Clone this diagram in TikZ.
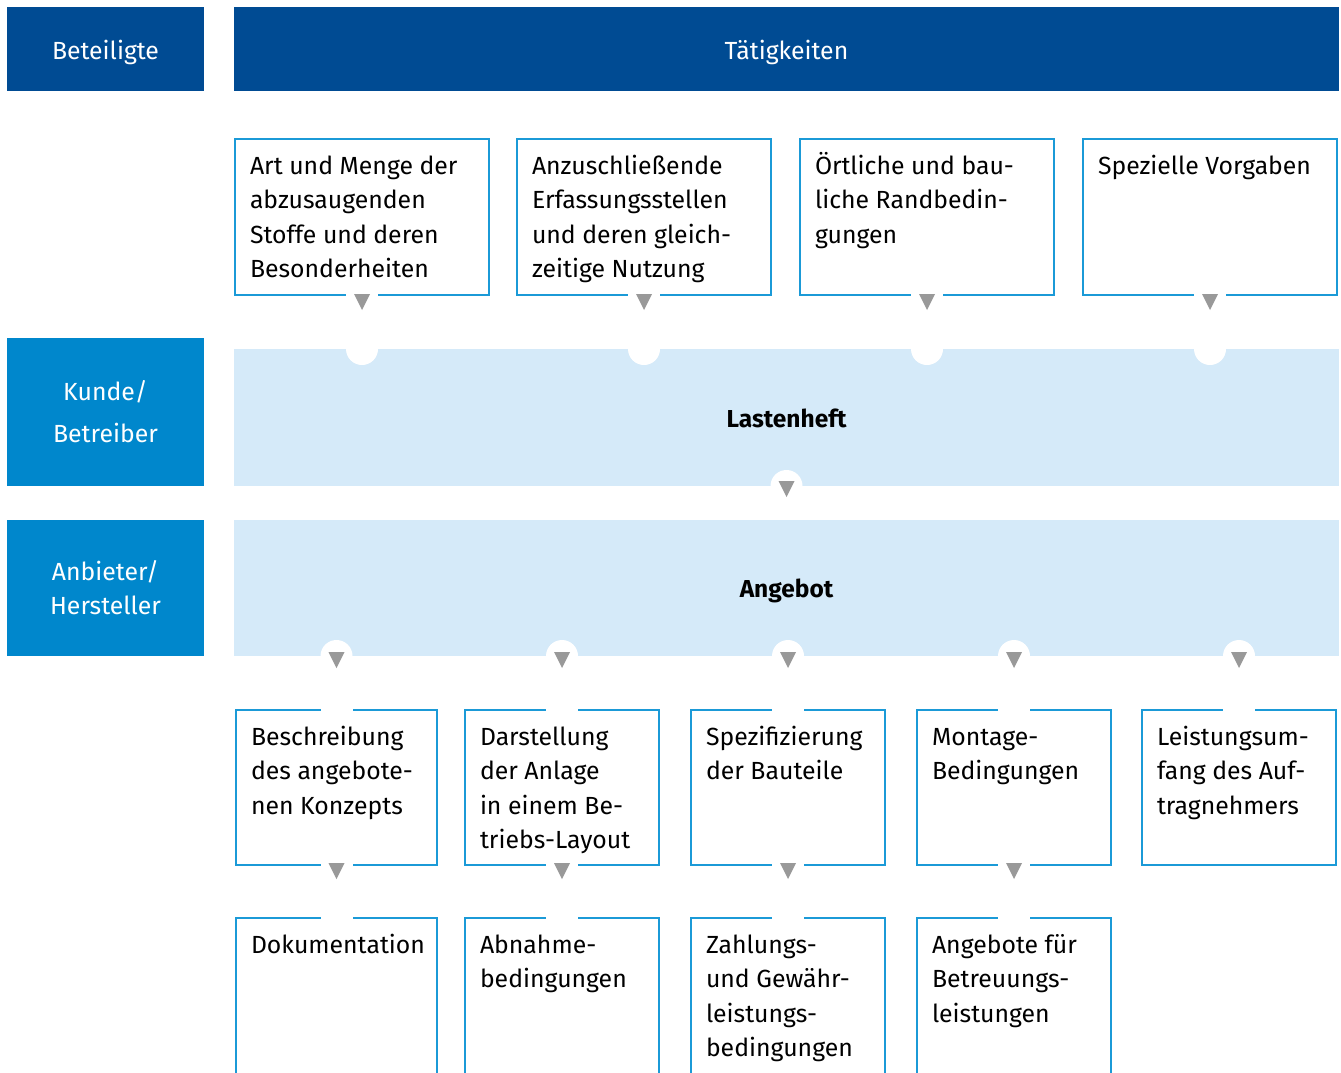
\documentclass[tikz,border=0pt]{standalone}
\usepackage{fontspec}
\setmainfont{Fira Sans}
\usetikzlibrary{calc}
\definecolor{dblue}{HTML}{004B93}
\definecolor{mblue}{HTML}{0087CC}
\definecolor{lblue}{HTML}{D5EAF9}
\definecolor{bblue}{HTML}{1B9AD7}
\definecolor{tgray}{HTML}{999999}
\newcommand\boxtxt[3]{\parbox[c][#2][t]{#1}{\raggedright\rule{0pt}{35.5pt}#3}}
\begin{document}
\begin{tikzpicture}[x=1pt,y=-1pt,
  basefont/.style={font=\fontsize{24.8}{34.3}\selectfont},
  hdr/.style={fill=dblue,text=white,inner sep=0pt,outer sep=0pt,anchor=north west,basefont,text height=20pt,text depth=0pt},
  role/.style={fill=mblue,text=white,inner sep=0pt,outer sep=0pt,anchor=north west,align=center},
  band/.style={fill=lblue,inner sep=0pt,outer sep=0pt,anchor=north west,font=\bfseries\fontsize{24.5}{34.3}\selectfont,text height=19.5pt,text depth=0pt},
  actbox/.style={draw=bblue,line width=2pt,inner xsep=15pt,inner ysep=0pt,outer sep=0pt,anchor=north west,basefont},
  bite/.style={fill=white},
  gapcut/.style={fill=white},
  tri/.style={fill=tgray}]
\useasboundingbox (0,0) rectangle (1341,1072);
\clip (0,0) rectangle (1341,1072);
\fill[white] (0,0) rectangle (1341,1072);

% headers
\node[hdr,minimum width=197pt,minimum height=84pt] (hb) at (7,7) {Beteiligte};
\node[hdr,minimum width=1105pt,minimum height=84pt] (ht) at (234,7) {Tätigkeiten};

% roles
\node[role,minimum width=197pt,minimum height=148pt,font=\fontsize{24.8}{42}\selectfont] (rk) at (7,338) {Kunde/\\Betreiber};
\node[role,minimum width=197pt,minimum height=136pt,font=\fontsize{24.8}{34}\selectfont] (ra) at (7,520) {Anbieter/\\Hersteller};

% bands
\node[band,minimum width=1105pt,minimum height=137pt] (la) at (234,349) {Lastenheft};
\node[band,minimum width=1105pt,minimum height=136pt] (an) at (234,520) {Angebot};

% top row
\node[actbox] (t1) at (235,139) {\boxtxt{224pt}{156pt}{Art und Menge der\\abzusaugenden\\Stoffe und deren\\Besonderheiten}};
\node[actbox] (t2) at (517,139) {\boxtxt{224pt}{156pt}{Anzuschließende\\Erfassungsstellen\\und deren gleich-\\zeitige Nutzung}};
\node[actbox] (t3) at (800,139) {\boxtxt{224pt}{156pt}{Örtliche und bau-\\liche Randbedin-\\gungen}};
\node[actbox] (t4) at (1083,139) {\boxtxt{224pt}{156pt}{Spezielle Vorgaben}};

% middle row
\node[actbox] (m1) at (236,710) {\boxtxt{171pt}{155pt}{Beschreibung\\des angebote-\\nen Konzepts}};
\node[actbox] (m2) at (465,710) {\boxtxt{164pt}{155pt}{Darstellung\\der Anlage\\in einem Be-\\triebs-Layout}};
\node[actbox] (m3) at (691,710) {\boxtxt{164pt}{155pt}{Spezifizierung\\der Bauteile}};
\node[actbox] (m4) at (917,710) {\boxtxt{164pt}{155pt}{Montage-\\Bedingungen}};
\node[actbox] (m5) at (1142,710) {\boxtxt{164pt}{155pt}{Leistungsum-\\fang des Auf-\\tragnehmers}};

% bottom row
\node[actbox] (b1) at (236,918) {\boxtxt{171pt}{190pt}{Dokumentation}};
\node[actbox] (b2) at (465,918) {\boxtxt{164pt}{190pt}{Abnahme-\\bedingungen}};
\node[actbox] (b3) at (691,918) {\boxtxt{164pt}{190pt}{Zahlungs-\\und Gewähr-\\leistungs-\\bedingungen}};
\node[actbox] (b4) at (917,918) {\boxtxt{164pt}{190pt}{Angebote für\\Betreuungs-\\leistungen}};

% bites into the bands
\foreach \n in {t1,t2,t3,t4}{\fill[bite] (\n.south |- la.north) circle (16);}
\fill[bite] (la.south) circle (16);
\foreach \n in {m1,m2,m3,m4,m5}{\fill[bite] (\n.north |- an.south) circle (16);}

% gaps in the box borders
\foreach \n in {t1,t2,t3,t4,m1,m2,m3,m4}{\fill[gapcut] ($(\n.south)+(-16,-2.5)$) rectangle ($(\n.south)+(16,2.5)$);}
\foreach \n in {m1,m2,m3,m4,m5,b1,b2,b3,b4}{\fill[gapcut] ($(\n.north)+(-16,-2.5)$) rectangle ($(\n.north)+(16,2.5)$);}

% triangles (connectors)
\foreach \n in {t1,t2,t3,t4}{\fill[tri] ($(\n.south)+(-8,-1)$) -- ++(16,0) -- ++(-8,16) -- cycle;}
\fill[tri] ($(la.south)+(-8,-5)$) -- ++(16,0) -- ++(-8,16) -- cycle;
\foreach \n in {m1,m2,m3,m4,m5}{\fill[tri] ($(\n.north |- an.south)+(-8,-4)$) -- ++(16,0) -- ++(-8,16) -- cycle;}
\foreach \n in {m1,m2,m3,m4}{\fill[tri] ($(\n.south)+(-8,-2)$) -- ++(16,0) -- ++(-8,16) -- cycle;}
\end{tikzpicture}
\end{document}
